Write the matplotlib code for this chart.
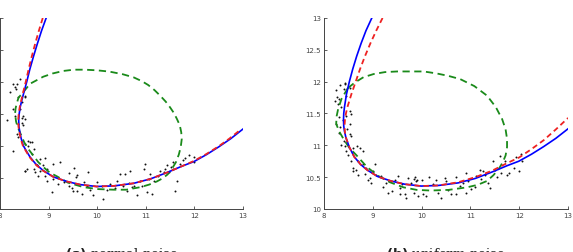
import matplotlib
matplotlib.use("Agg")
import matplotlib.pyplot as plt

# ---- normal noise panel ----
normal_x = [8.27, 8.21, 8.32, 8.38, 8.52, 8.45, 8.41, 8.48, 8.52, 8.31, 8.15, 8.45, 8.34, 8.38,
            8.58, 8.62, 8.52, 8.69, 8.27, 8.65, 8.82, 8.93, 8.76, 8.89, 8.55, 8.69, 8.82, 8.96,
            8.79, 8.52, 9.10, 9.24, 9.53, 9.07, 9.41, 9.58, 9.57, 9.82, 9.99, 10.13, 9.92, 9.68,
            9.58, 9.48, 10.27, 10.41, 10.47, 10.58, 10.68, 10.54, 10.72, 10.82, 11.02, 11.13,
            10.89, 10.99, 10.96, 11.09, 11.30, 11.44, 11.47, 11.61, 11.64, 11.81, 11.88, 11.99,
            11.99, 11.57, 11.40, 8.31, 8.41, 8.34, 8.52, 8.27, 8.45, 8.38, 8.48, 8.58, 8.65,
            8.52, 8.72, 8.76, 8.93, 8.96, 9.10, 9.20, 9.31, 9.41, 9.51, 9.72, 9.79, 9.86, 10.10,
            10.20, 10.37, 10.61, 10.65, 10.75, 10.92, 11.06, 11.16, 11.26, 11.37, 11.51, 11.57,
            11.71, 11.77]
normal_y = [11.97, 11.84, 11.89, 11.76, 11.76, 11.68, 11.58, 11.47, 11.42, 11.47, 11.40, 11.36,
            11.18, 11.13, 11.08, 11.05, 11.03, 10.95, 10.92, 10.87, 10.79, 10.81, 10.69, 10.69,
            10.63, 10.63, 10.61, 10.63, 10.53, 10.61, 10.71, 10.74, 10.65, 10.28, 10.57, 10.54,
            10.51, 10.58, 10.43, 10.16, 10.23, 10.24, 10.29, 10.34, 10.40, 10.45, 10.56, 10.55,
            10.61, 10.37, 10.35, 10.23, 10.28, 10.24, 10.45, 10.71, 10.63, 10.56, 10.61, 10.69,
            10.58, 10.29, 10.45, 10.80, 10.86, 10.74, 10.82, 10.74, 10.63, 11.92, 12.05, 11.96,
            11.78, 11.57, 11.44, 11.34, 11.32, 11.00, 11.05, 10.61, 10.58, 10.69, 10.53, 10.45,
            10.48, 10.40, 10.43, 10.37, 10.29, 10.43, 10.37, 10.31, 10.37, 10.31, 10.34, 10.29,
            10.42, 10.37, 10.37, 10.47, 10.45, 10.52, 10.58, 10.66, 10.63, 10.71, 10.77]

normal_fit_x = [8.95, 8.855, 8.77, 8.69, 8.615, 8.55, 8.48, 8.445, 8.415, 8.395, 8.385, 8.39,
                8.41, 8.44, 8.48, 8.54, 8.62, 8.75, 8.89, 9.10, 9.37, 9.65, 9.99, 10.35, 10.75,
                11.10, 11.44, 11.75, 11.99, 12.25, 12.50, 12.75, 13.00]
normal_fit_y = [13.00, 12.80, 12.60, 12.40, 12.20, 12.00, 11.80, 11.70, 11.60, 11.50, 11.40,
                11.30, 11.20, 11.10, 11.00, 10.92, 10.82, 10.70, 10.61, 10.51, 10.44, 10.39,
                10.36, 10.37, 10.41, 10.48, 10.58, 10.68, 10.75, 10.86, 10.98, 11.11, 11.26]
normal_alt_x = [8.88, 8.80, 8.725, 8.655, 8.59, 8.53, 8.465, 8.435, 8.405, 8.385, 8.375, 8.38,
                8.40, 8.43, 8.47, 8.53, 8.61, 8.74, 8.88, 9.10, 9.37, 9.65, 9.99, 10.35, 10.75,
                11.10, 11.44, 11.75, 11.99, 12.25, 12.50, 12.72, 12.95]
normal_alt_y = [13.00, 12.80, 12.60, 12.40, 12.20, 12.00, 11.80, 11.70, 11.60, 11.50, 11.40,
                11.30, 11.20, 11.10, 11.00, 10.92, 10.82, 10.70, 10.61, 10.51, 10.44, 10.39,
                10.36, 10.37, 10.41, 10.48, 10.58, 10.68, 10.76, 10.87, 10.99, 11.11, 11.25]
normal_ell_x = [8.48, 8.62, 8.89, 9.08, 9.30, 9.52, 9.75, 10.00, 10.25, 10.52, 10.75, 10.92,
                11.05, 11.18, 11.30, 11.41, 11.50, 11.58, 11.64, 11.70, 11.73, 11.74, 11.72,
                11.68, 11.62, 11.54, 11.45, 11.35, 11.23, 11.07, 10.89, 10.60, 10.34, 10.00,
                9.72, 9.40, 9.17, 9.02, 8.90, 8.79, 8.69, 8.59, 8.50, 8.41, 8.36, 8.33, 8.31,
                8.32, 8.34, 8.38, 8.48]
normal_ell_y = [11.84, 11.97, 12.08, 12.13, 12.17, 12.19, 12.19, 12.18, 12.16, 12.12, 12.07,
                12.01, 11.95, 11.87, 11.78, 11.69, 11.60, 11.51, 11.42, 11.32, 11.21, 11.10,
                10.98, 10.86, 10.74, 10.64, 10.55, 10.49, 10.44, 10.39, 10.35, 10.31, 10.31,
                10.32, 10.35, 10.42, 10.52, 10.58, 10.66, 10.74, 10.84, 10.94, 11.05, 11.21,
                11.30, 11.38, 11.50, 11.58, 11.65, 11.75, 11.84]

# ---- uniform noise panel ----
uniform_x = [8.25, 8.26, 8.30, 8.40, 8.43, 8.53, 8.46, 8.53, 8.56, 8.46, 8.25, 8.33, 8.53, 8.40,
             8.43, 8.46, 8.53, 8.56, 8.60, 8.67, 8.73, 8.80, 8.60, 8.60, 8.70, 8.80, 8.87, 8.94,
             8.97, 9.04, 9.07, 9.17, 9.28, 9.31, 9.51, 9.55, 9.55, 9.65, 9.68, 9.72, 9.78, 9.85,
             9.88, 9.92, 10.02, 10.09, 10.23, 10.33, 10.40, 10.47, 10.50, 10.60, 10.71, 10.78,
             10.85, 10.91, 10.95, 11.02, 11.12, 11.19, 11.22, 11.30, 11.36, 11.40, 11.46, 11.50,
             11.60, 11.63, 11.74, 11.80, 12.00, 12.04, 11.94, 8.22, 8.28, 8.35, 8.32, 8.43, 8.30,
             8.38, 8.48, 8.30, 8.35, 8.50, 8.55, 8.70, 8.65, 8.85, 8.90, 9.00, 9.20, 9.40, 9.45,
             9.60, 9.85, 10.00, 10.15, 10.30, 10.55, 10.70, 10.90, 11.10, 11.25, 11.55, 11.70,
             11.90, 12.05, 9.87, 9.90]
uniform_y = [11.87, 11.76, 11.73, 11.88, 11.98, 11.90, 11.77, 11.54, 11.49, 11.46, 11.34, 11.29,
             11.34, 11.06, 10.99, 10.91, 11.18, 11.15, 10.96, 10.99, 10.96, 10.91, 10.65, 10.59,
             10.54, 10.70, 10.65, 10.49, 10.41, 10.70, 10.54, 10.52, 10.41, 10.25, 10.52, 10.33,
             10.23, 10.23, 10.18, 10.49, 10.41, 10.47, 10.44, 10.20, 10.23, 10.20, 10.39, 10.25,
             10.18, 10.49, 10.44, 10.23, 10.23, 10.36, 10.41, 10.57, 10.44, 10.31, 10.52, 10.62,
             10.47, 10.54, 10.41, 10.33, 10.75, 10.62, 10.83, 10.57, 10.54, 10.57, 10.60, 10.86,
             10.81, 11.70, 11.65, 11.60, 11.95, 11.96, 11.45, 11.40, 11.25, 11.20, 11.00, 10.85,
             10.75, 10.75, 10.62, 10.55, 10.45, 10.60, 10.35, 10.28, 10.45, 10.40, 10.25, 10.45,
             10.50, 10.45, 10.30, 10.50, 10.25, 10.35, 10.60, 10.50, 10.75, 10.65, 10.75, 10.50,
             10.46]

uniform_fit_x = [8.98, 8.92, 8.86, 8.81, 8.76, 8.67, 8.59, 8.52, 8.46, 8.42, 8.405, 8.40,
                 8.405, 8.42, 8.45, 8.52, 8.62, 8.75, 8.89, 9.10, 9.37, 9.65, 9.99, 10.35,
                 10.75, 11.10, 11.44, 11.75, 11.99, 12.25, 12.50, 12.75, 13.00]
uniform_fit_y = [13.00, 12.90, 12.80, 12.70, 12.60, 12.40, 12.20, 12.00, 11.80, 11.60, 11.50,
                 11.40, 11.30, 11.22, 11.12, 10.97, 10.82, 10.70, 10.61, 10.51, 10.44, 10.39,
                 10.36, 10.37, 10.41, 10.48, 10.58, 10.68, 10.75, 10.86, 10.98, 11.11, 11.26]
uniform_alt_x = [9.20, 9.07, 8.95, 8.84, 8.74, 8.65, 8.56, 8.48, 8.45, 8.43, 8.42, 8.43, 8.45,
                 8.52, 8.62, 8.75, 8.89, 9.10, 9.37, 9.65, 9.99, 10.35, 10.75, 11.10, 11.44,
                 11.75, 12.00, 12.25, 12.50, 12.75, 13.00]
uniform_alt_y = [13.00, 12.80, 12.60, 12.40, 12.20, 12.00, 11.80, 11.60, 11.50, 11.40, 11.30,
                 11.20, 11.12, 10.97, 10.82, 10.70, 10.61, 10.51, 10.44, 10.39, 10.36, 10.37,
                 10.42, 10.50, 10.60, 10.72, 10.81, 10.94, 11.08, 11.25, 11.43]
uniform_ell_x = [8.49, 8.64, 8.81, 9.02, 9.25, 9.50, 9.77, 10.04, 10.30, 10.55, 10.79, 11.08,
                 11.34, 11.52, 11.65, 11.72, 11.75, 11.75, 11.72, 11.66, 11.58, 11.47, 11.34,
                 11.15, 10.93, 10.55, 10.18, 9.90, 9.63, 9.35, 9.11, 8.88, 8.67, 8.52, 8.40,
                 8.31, 8.25, 8.26, 8.29, 8.36, 8.49]
uniform_ell_y = [11.90, 11.99, 12.07, 12.12, 12.15, 12.16, 12.16, 12.16, 12.13, 12.09, 12.04,
                 11.93, 11.78, 11.60, 11.41, 11.25, 11.10, 10.97, 10.84, 10.73, 10.63, 10.53,
                 10.44, 10.38, 10.34, 10.30, 10.29, 10.30, 10.34, 10.42, 10.52, 10.66, 10.84,
                 10.96, 11.10, 11.22, 11.34, 11.46, 11.57, 11.73, 11.90]

panels = [
    ("normal noise", "(a)", normal_x, normal_y, normal_fit_x, normal_fit_y,
     normal_alt_x, normal_alt_y, normal_ell_x, normal_ell_y),
    ("uniform noise", "(b)", uniform_x, uniform_y, uniform_fit_x, uniform_fit_y,
     uniform_alt_x, uniform_alt_y, uniform_ell_x, uniform_ell_y),
]

xticks = [8, 9, 10, 11, 12, 13]
yticks = [10, 10.5, 11, 11.5, 12, 12.5, 13]
ytick_labels = ["10", "10.5", "11", "11.5", "12", "12.5", "13"]

fig = plt.figure(figsize=(5.73, 2.53), dpi=100)
positions = [[0.0, 0.168, 0.424, 0.757], [0.5654, 0.170, 0.426, 0.755]]

for pos, (name, tag, px, py, fx, fy, ax_, ay_, ex, ey) in zip(positions, panels):
    ax = fig.add_axes(pos)
    ax.scatter(px, py, s=2.0, color="#111111", linewidths=0, zorder=2)
    ax.plot(ex, ey, color="#1a8a1a", lw=1.3, dashes=(4, 2.5), zorder=3)
    ax.plot(fx, fy, color="#0000ff", lw=1.2, zorder=4)
    ax.plot(ax_, ay_, color="#ee2222", lw=1.3, dashes=(3, 2), zorder=5)
    ax.set_xlim(8, 13)
    ax.set_ylim(10, 13)
    ax.set_xticks(xticks)
    ax.set_yticks(yticks)
    ax.set_yticklabels(ytick_labels)
    ax.tick_params(labelsize=5, length=2, width=0.6, direction="in", pad=2,
                   colors="#444444")
    for side in ["top", "right"]:
        ax.spines[side].set_visible(False)
    for side in ["left", "bottom"]:
        ax.spines[side].set_linewidth(0.7)
        ax.spines[side].set_color("#444444")
    cx = pos[0] + pos[2] / 2
    fig.text(cx, -0.02, r"$\bf{" + tag + "}$ " + name, ha="center", va="baseline",
             fontsize=9.5, family="DejaVu Serif", color="#222222")

fig.savefig("out.png", dpi=100)
